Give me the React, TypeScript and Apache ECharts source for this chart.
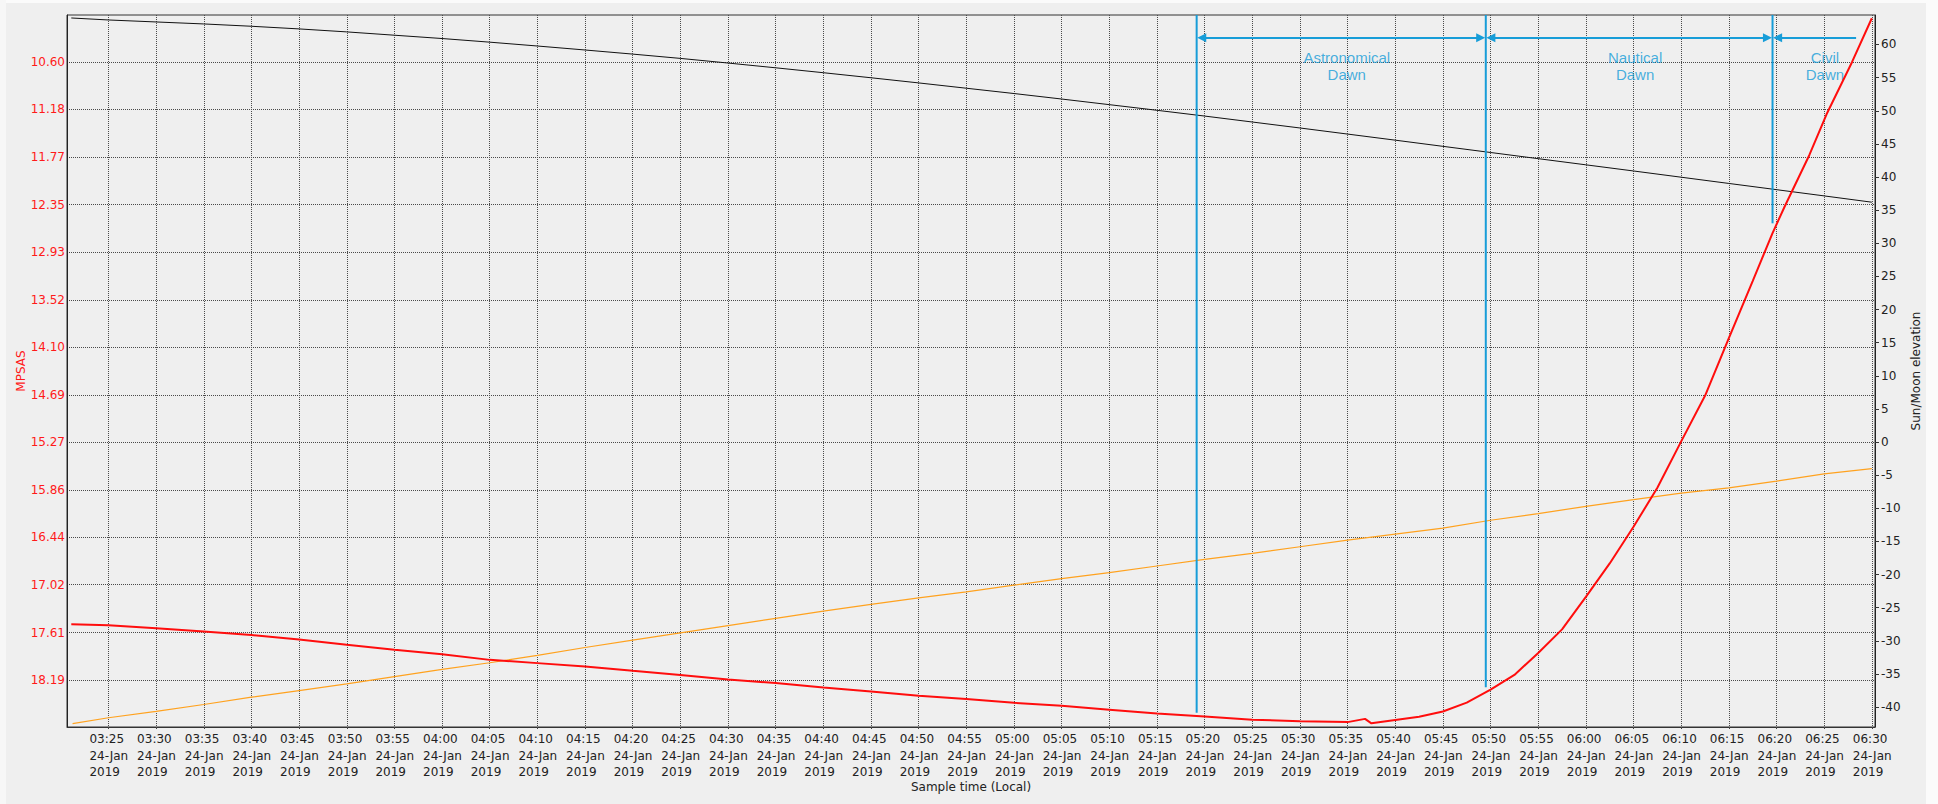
import React, { useEffect, useRef } from "react";
import * as echarts from "echarts";

// ---------- data ----------
const xTickTimes = [
  "03:25", "03:30", "03:35", "03:40", "03:45", "03:50", "03:55", "04:00", "04:05", "04:10",
  "04:15", "04:20", "04:25", "04:30", "04:35", "04:40", "04:45", "04:50", "04:55", "05:00",
  "05:05", "05:10", "05:15", "05:20", "05:25", "05:30", "05:35", "05:40", "05:45", "05:50",
  "05:55", "06:00", "06:05", "06:10", "06:15", "06:20", "06:25", "06:30",
];
const xDateLine = "24-Jan";
const xYearLine = "2019";
const xMin = "03:20:39";
const xMax = "06:30:20";

const mpsasTickLabels = [
  "10.60", "11.18", "11.77", "12.35", "12.93", "13.52", "14.10",
  "14.69", "15.27", "15.86", "16.44", "17.02", "17.61", "18.19",
];
const mpsasMin = 10.02;
const mpsasMax = 18.77;

const elevTicks = [-40, -35, -30, -25, -20, -15, -10, -5, 0, 5, 10, 15, 20, 25, 30, 35, 40, 45, 50, 55, 60];
const elevMin = -43.0;
const elevMax = 64.45;

const skyTimes = [
  "03:21:06", "03:25", "03:30", "03:35", "03:40", "03:45", "03:50", "03:55", "04:00", "04:05",
  "04:10", "04:15", "04:20", "04:25", "04:30", "04:35", "04:40", "04:45", "04:50", "04:55",
  "05:00", "05:05", "05:10", "05:15", "05:20", "05:25", "05:30", "05:35", "05:36:50", "05:37:30",
  "05:40", "05:42:30", "05:45", "05:47:30", "05:50", "05:52:30", "05:55", "05:57:30", "06:00", "06:02:30",
  "06:05", "06:07:30", "06:10", "06:12:30", "06:15", "06:17:30", "06:19:35", "06:20:50", "06:23:27", "06:25:15",
  "06:27:55", "06:30",
];
const skyMpsas = [
  17.506, 17.52, 17.555, 17.597, 17.64, 17.695, 17.76, 17.82, 17.875, 17.945,
  17.985, 18.027, 18.08, 18.13, 18.186, 18.23, 18.285, 18.334, 18.387, 18.427,
  18.473, 18.51, 18.557, 18.604, 18.64, 18.68, 18.698, 18.71, 18.67, 18.725,
  18.685, 18.645, 18.58, 18.47, 18.31, 18.13, 17.86, 17.57, 17.17, 16.76,
  16.31, 15.83, 15.26, 14.7, 13.99, 13.29, 12.7, 12.38, 11.74, 11.24,
  10.6, 10.06,
];

const moonTimes = [
  "03:21:06", "03:25", "03:30", "03:35", "03:40", "03:45", "03:50", "03:55", "04:00", "04:05",
  "04:10", "04:15", "04:20", "04:25", "04:30", "04:35", "04:40", "04:45", "04:50", "04:55",
  "05:00", "05:05", "05:10", "05:15", "05:20", "05:25", "05:30", "05:35", "05:40", "05:45",
  "05:50", "05:55", "06:00", "06:05", "06:10", "06:15", "06:20", "06:25", "06:30",
];
const moonElev = [
  64.0, 63.7, 63.4, 63.1, 62.75, 62.35, 61.9, 61.4, 60.9, 60.35,
  59.77, 59.17, 58.55, 57.9, 57.2, 56.48, 55.74, 54.98, 54.2, 53.4,
  52.6, 51.77, 50.92, 50.07, 49.2, 48.3, 47.4, 46.48, 45.56, 44.63,
  43.7, 42.77, 41.84, 40.91, 39.97, 39.03, 38.09, 37.15, 36.2,
];

const sunTimes = [
  "03:21:14", "03:25", "03:30", "03:35", "03:40", "03:45", "03:50", "03:55", "04:00", "04:05",
  "04:10", "04:15", "04:20", "04:25", "04:30", "04:35", "04:40", "04:45", "04:50", "04:55",
  "05:00", "05:05", "05:10", "05:15", "05:20", "05:25", "05:30", "05:35", "05:40", "05:45",
  "05:50", "05:55", "06:00", "06:05", "06:10", "06:15", "06:20", "06:25", "06:30",
];
const sunElev = [
  -42.5, -41.6, -40.65, -39.6, -38.5, -37.5, -36.5, -35.4, -34.3, -33.3,
  -32.2, -31.0, -29.9, -28.8, -27.7, -26.6, -25.5, -24.5, -23.5, -22.6,
  -21.6, -20.6, -19.7, -18.7, -17.7, -16.8, -15.8, -14.8, -13.9, -13.0,
  -11.8, -10.8, -9.7, -8.7, -7.7, -6.9, -5.9, -4.8, -4.0,
];

const dawnNames = ["Astronomical\nDawn", "Nautical\nDawn", "Civil\nDawn"];
const dawnStartTimes = ["05:19:10", "05:49:30", "06:19:35"];
const dawnLineEnds = [18.595, 18.28, 12.58];
// arrow shafts run between the boundaries, heads stop just short of the boundary lines
const dawnArrowStarts = ["05:19:42", "05:50:02", "06:20:07"];
const dawnArrowEnds = ["05:48:58", "06:19:03", "06:28:21"];
const dawnArrowHeadAtEnd = [true, true, false];
const dawnLabelTimes = ["05:34:55", "06:05:10", "06:25:05"];
const dawnArrowLevel = 10.3;
const dawnLabelLevel = 10.643;

// ---------- helpers ----------
const toMs = (t: string) => {
  const p = t.split(":").map(Number);
  return Date.UTC(2019, 0, 24, p[0], p[1], p[2] || 0);
};
const pad = (n: number) => (n < 10 ? "0" + n : "" + n);

const CYAN = "#179dd8";
const FONT = "DejaVu Sans";

export default function App() {
  const ref = useRef<HTMLDivElement>(null);

  useEffect(() => {
    if (!ref.current) return;
    const chart = echarts.init(ref.current, null, { renderer: "svg" });

    const series: any[] = [
      {
        name: "Moon",
        type: "line",
        yAxisIndex: 1,
        data: moonTimes.map((t, i) => [toMs(t), moonElev[i]]),
        showSymbol: false,
        lineStyle: { color: "#111111", width: 1 },
        itemStyle: { color: "#111111" },
        z: 3,
      },
      {
        name: "Sun",
        type: "line",
        yAxisIndex: 1,
        data: sunTimes.map((t, i) => [toMs(t), sunElev[i]]),
        showSymbol: false,
        lineStyle: { color: "#ffa21f", width: 1.2 },
        itemStyle: { color: "#ffa21f" },
        z: 3,
      },
      ...dawnStartTimes.map((t, i) => ({
        name: "dawn" + i,
        type: "line",
        yAxisIndex: 0,
        data: [
          [toMs(t), mpsasMin],
          [toMs(t), dawnLineEnds[i]],
        ],
        showSymbol: false,
        lineStyle: { color: CYAN, width: 2 },
        itemStyle: { color: CYAN },
        z: 4,
      })),
      {
        name: "arrows",
        type: "line",
        yAxisIndex: 0,
        data: [],
        markLine: {
          silent: true,
          animation: false,
          precision: 4,
          lineStyle: { color: CYAN, width: 2, type: "solid" },
          label: { show: false },
          symbolSize: [9, 9],
          data: dawnArrowStarts.map((t, i) => [
            { coord: [toMs(t), dawnArrowLevel], symbol: "triangle" },
            {
              coord: [toMs(dawnArrowEnds[i]), dawnArrowLevel],
              symbol: dawnArrowHeadAtEnd[i] ? "triangle" : "none",
            },
          ]),
        },
        z: 4,
      },
      {
        name: "labels",
        type: "scatter",
        yAxisIndex: 0,
        symbolSize: 1,
        itemStyle: { color: "rgba(0,0,0,0)" },
        data: dawnLabelTimes.map((t, i) => ({ name: dawnNames[i], value: [toMs(t), dawnLabelLevel] })),
        label: {
          show: true,
          position: "inside",
          formatter: "{b}",
          color: CYAN,
          fontFamily: "Liberation Sans",
          fontSize: 15,
          lineHeight: 17,
          align: "center",
          verticalAlign: "middle",
        },
        z: 5,
      },
      {
        name: "MPSAS",
        type: "line",
        yAxisIndex: 0,
        data: skyTimes.map((t, i) => [toMs(t), skyMpsas[i]]),
        showSymbol: false,
        lineStyle: { color: "#ff0d0d", width: 2 },
        itemStyle: { color: "#ff0d0d" },
        z: 6,
      },
    ];

    chart.setOption({
      animation: false,
      backgroundColor: "#efefef",
      graphic: [
        { type: "rect", shape: { x: 1926, y: 0, width: 12, height: 804 }, style: { fill: "#fbfbfb" }, z: -10 },
        { type: "rect", shape: { x: 0, y: 0, width: 1938, height: 3 }, style: { fill: "#fbfbfb" }, z: -10 },
        { type: "rect", shape: { x: 0, y: 0, width: 6, height: 804 }, style: { fill: "#f7f7f7" }, z: -10 },
      ],
      grid: {
        left: 67,
        top: 15,
        right: 63,
        bottom: 77,
        show: true,
        borderColor: "#333333",
        borderWidth: 1,
        backgroundColor: "transparent",
        containLabel: false,
        outerBoundsMode: "none",
      },
      xAxis: {
        type: "value",
        min: toMs(xMin),
        max: toMs(xMax),
        name: "Sample time (Local)",
        nameLocation: "middle",
        nameGap: 54,
        nameMoveOverlap: false,
        nameTextStyle: { color: "#222", fontFamily: FONT, fontSize: 12 },
        axisLine: { show: true, onZero: false, lineStyle: { color: "#333", width: 1 } },
        axisTick: { show: true, length: 2, customValues: xTickTimes.map(toMs), lineStyle: { color: "#444" } },
        axisLabel: {
          customValues: xTickTimes.map(toMs),
          margin: 4,
          formatter: (v: number) => {
            const d = new Date(v);
            return `{a|${pad(d.getUTCHours())}:${pad(d.getUTCMinutes())}}\n{a|${xDateLine}}\n{a|${xYearLine}}`;
          },
          rich: {
            a: { width: 38, align: "left", fontFamily: FONT, fontSize: 12, lineHeight: 16.5, color: "#222" },
          },
        },
        splitLine: { show: true, lineStyle: { color: "#4a4a4a", width: 1, type: [1, 1] } },
      },
      yAxis: [
        {
          type: "value",
          inverse: true,
          min: mpsasMin,
          max: mpsasMax,
          position: "left",
          name: "MPSAS",
          nameLocation: "middle",
          nameGap: 40,
          nameMoveOverlap: false,
          nameTextStyle: { color: "#ff1a1a", fontFamily: FONT, fontSize: 12 },
          axisLine: { show: true, onZero: false, lineStyle: { color: "#222", width: 1 } },
          axisTick: { show: false, customValues: mpsasTickLabels.map(Number) },
          axisLabel: {
            customValues: mpsasTickLabels.map(Number),
            formatter: (v: number) => v.toFixed(2),
            color: "#ff1a1a",
            fontFamily: FONT,
            fontSize: 12,
            margin: 2,
          },
          splitLine: { show: true, lineStyle: { color: "#4a4a4a", width: 1, type: [1, 1] } },
        },
        {
          type: "value",
          min: elevMin,
          max: elevMax,
          position: "right",
          name: "Sun/Moon elevation",
          nameLocation: "middle",
          nameGap: 35,
          nameRotate: 90,
          nameMoveOverlap: false,
          nameTextStyle: { color: "#222", fontFamily: FONT, fontSize: 12 },
          axisLine: { show: true, onZero: false, lineStyle: { color: "#222", width: 1 } },
          axisTick: { show: true, length: 4, customValues: elevTicks, lineStyle: { color: "#333" } },
          axisLabel: {
            customValues: elevTicks,
            color: "#222",
            fontFamily: FONT,
            fontSize: 12,
            margin: 6,
          },
          splitLine: { show: false },
        },
      ],
      series,
    });

    return () => chart.dispose();
  }, []);

  return (
    <div
      ref={ref}
      style={{ position: "fixed", left: 0, top: 0, width: 1938, height: 804 }}
    />
  );
}
